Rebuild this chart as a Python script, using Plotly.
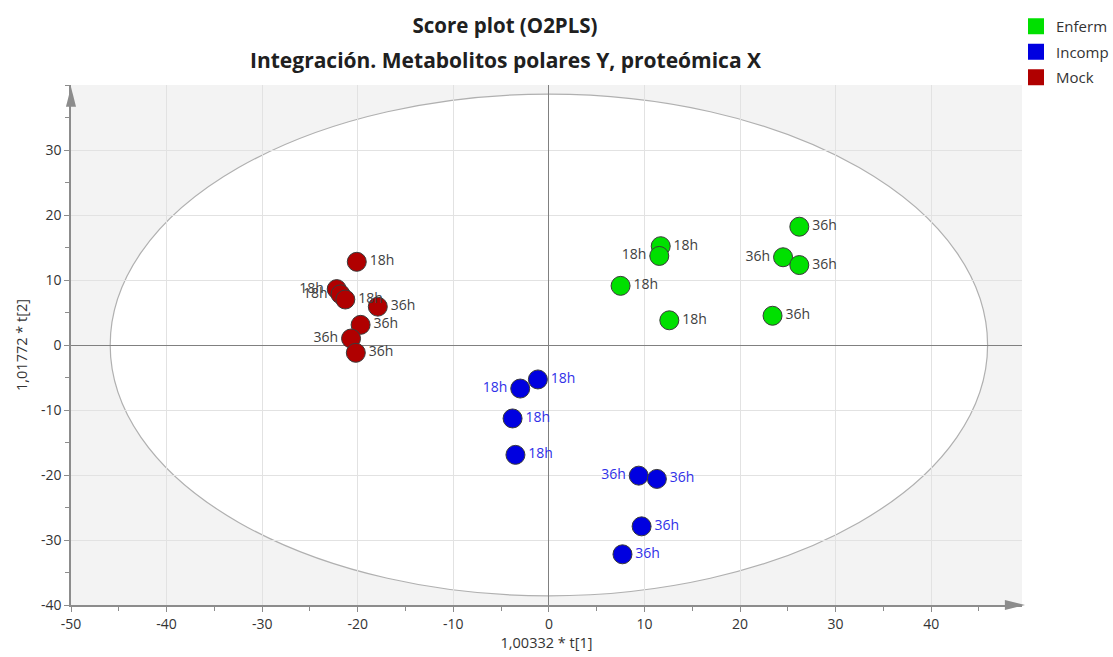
import plotly.graph_objects as go

# ---- data ----
enferm_x = [26.2, 11.7, 11.55, 24.5, 26.2, 7.5, 12.6, 23.4]
enferm_y = [18.2, 15.2, 13.7, 13.5, 12.3, 9.1, 3.8, 4.5]
enferm_lab = ["36h", "18h", "18h", "36h", "36h", "18h", "18h", "36h"]
enferm_pos = ["middle right", "middle right", "middle left", "middle left",
              "middle right", "middle right", "middle right", "middle right"]

incomp_x = [-1.15, -3.0, -3.8, -3.5, 9.4, 11.3, 9.7, 7.7]
incomp_y = [-5.3, -6.7, -11.3, -16.9, -20.1, -20.6, -27.9, -32.2]
incomp_lab = ["18h", "18h", "18h", "18h", "36h", "36h", "36h", "36h"]
incomp_pos = ["middle right", "middle left", "middle right", "middle right",
              "middle left", "middle right", "middle right", "middle right"]

mock_x = [-20.1, -22.2, -21.8, -21.3, -17.9, -19.7, -20.7, -20.2]
mock_y = [12.8, 8.6, 7.8, 7.0, 5.9, 3.1, 1.0, -1.2]
mock_lab = ["18h", "18h", "18h", "18h", "36h", "36h", "36h", "36h"]
mock_pos = ["middle right", "middle left", "middle left", "middle right",
            "middle right", "middle right", "middle left", "middle right"]

x_ticks = [-50, -40, -30, -20, -10, 0, 10, 20, 30, 40]
x_ticktext = ["-50", "-40", "-30", "-20", "-10", "0", "10", "20", "30", "40"]
y_ticks = [-40, -30, -20, -10, 0, 10, 20, 30]
y_ticktext = ["-40", "-30", "-20", "-10", "0", "10", "20", "30"]

ellipse_rx = 45.9
ellipse_ry = 38.6

series = [
    ("Enferm", enferm_x, enferm_y, enferm_lab, enferm_pos, "#00E000", "#404040"),
    ("Incomp", incomp_x, incomp_y, incomp_lab, incomp_pos, "#0000E0", "#3030E8"),
    ("Mock", mock_x, mock_y, mock_lab, mock_pos, "#B00000", "#404040"),
]

FONT = "Open Sans"
fig = go.Figure()

for name, xs, ys, labs, pos, col, tcol in series:
    fig.add_trace(go.Scatter(
        x=xs, y=ys, mode="markers+text", name=name, showlegend=False,
        text=labs, textposition=pos,
        textfont=dict(family=FONT, size=14, color=tcol),
        marker=dict(size=19, color=col, line=dict(color="#3a3a3a", width=1)),
        cliponaxis=False,
    ))
for name, xs, ys, labs, pos, col, tcol in series:
    fig.add_trace(go.Scatter(
        x=[None], y=[None], mode="markers", name=name, showlegend=True,
        legendgroup=name,
        marker=dict(size=18, color=col, symbol="square"),
    ))

# confidence ellipse
fig.add_shape(type="circle", xref="x", yref="y",
              x0=-ellipse_rx, x1=ellipse_rx, y0=-ellipse_ry, y1=ellipse_ry,
              fillcolor="white", line=dict(color="#B0B0B0", width=1.2), layer="below")

# axis arrows (decoration)
fig.add_shape(type="path", xref="paper", yref="paper",
              path="M 0.982 0.0096 L 1.0032 0 L 0.982 -0.0096 Z",
              fillcolor="#8C8C8C", line=dict(width=0), layer="above")
fig.add_shape(type="path", xref="paper", yref="paper",
              path="M -0.0053 0.958 L 0 0.996 L 0.0053 0.958 Z",
              fillcolor="#8C8C8C", line=dict(width=0), layer="above")

fig.update_layout(
    width=1113, height=657,
    margin=dict(l=71, r=91, t=85, b=52, autoexpand=False),
    paper_bgcolor="white", plot_bgcolor="#F3F3F3",
    font=dict(family=FONT, size=14, color="#333333"),
    title=dict(text="<b>Score plot (O2PLS)</b>", x=505/1113, xanchor="center",
               y=1 - 26/657, yanchor="middle", yref="container",
               font=dict(family=FONT, size=20.5, color="#202020")),
    legend=dict(xref="container", yref="container", x=1016/1113, y=1 - 10/657,
                xanchor="left", yanchor="top", bgcolor="rgba(0,0,0,0)",
                font=dict(family=FONT, size=15, color="#333333"),
                itemsizing="trace", tracegroupgap=3),
    showlegend=True,
)
fig.add_annotation(text="<b>Integración. Metabolitos polares Y, proteómica X</b>",
                   xref="paper", yref="paper", x=(505 - 71) / 951, y=(605 - 60) / 520,
                   xanchor="center", yanchor="middle", showarrow=False,
                   font=dict(family=FONT, size=21, color="#202020"))

fig.update_xaxes(range=[-50, 49.5], tickvals=x_ticks, ticktext=x_ticktext, showgrid=True,
                 gridcolor="#E2E2E2", zeroline=True, zerolinecolor="#808080",
                 zerolinewidth=1, showline=True, linecolor="#8C8C8C", linewidth=1.5,
                 ticks="outside", ticklen=5, tickcolor="#8C8C8C",
                 minor=dict(dtick=5, ticks="outside", ticklen=4, tickcolor="#8C8C8C", showgrid=False),
                 title=dict(text="1,00332 * t[1]", font=dict(size=14.5, color="#333333"), standoff=4),
                 tickfont=dict(size=14, color="#333333"))
fig.update_yaxes(range=[-40, 40], tickvals=y_ticks, ticktext=y_ticktext, showgrid=True,
                 gridcolor="#E2E2E2", zeroline=True, zerolinecolor="#808080",
                 zerolinewidth=1, showline=True, linecolor="#8C8C8C", linewidth=1.5,
                 ticks="outside", ticklen=5, tickcolor="#8C8C8C",
                 minor=dict(dtick=5, ticks="outside", ticklen=4, tickcolor="#8C8C8C", showgrid=False),
                 title=dict(text="1,01772 * t[2]", font=dict(size=14.5, color="#333333"), standoff=10),
                 tickfont=dict(size=14, color="#333333"))

fig.write_html("out.html", config={"displayModeBar": False},
               post_script="document.body.style.margin='0px';document.body.style.overflow='hidden';")
